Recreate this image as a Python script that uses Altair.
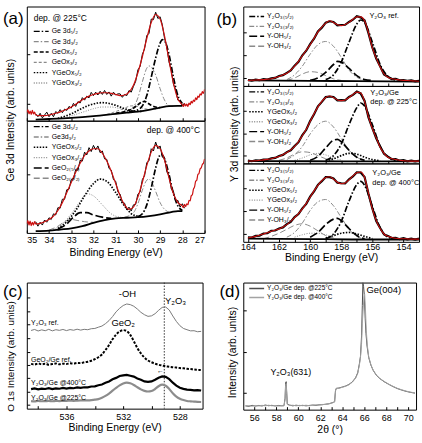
import altair as alt
import pandas as pd

FONT = "Liberation Sans"
BLACK = "#000000"
GRAY = "#8a8a8a"
RED = "#cc1010"

# ============================ (a) Ge 3d ============================
A_X_DATA = [34.6, 34.5, 34.4, 34.3, 34.2, 34.1, 34.0, 33.9, 33.8, 33.7, 33.6, 33.5, 33.4, 33.3,
            33.2, 33.1, 33.0, 32.9, 32.8, 32.7, 32.6, 32.5, 32.4, 32.3, 32.2, 32.1, 32.0, 31.9,
            31.8, 31.7, 31.6, 31.5, 31.4, 31.3, 31.2, 31.1, 31.0, 30.9, 30.8, 30.7, 30.6, 30.5,
            30.4, 30.3, 30.2, 30.1, 30.0, 29.9, 29.8, 29.7, 29.6, 29.5, 29.4, 29.3, 29.2, 29.1,
            29.0, 28.9, 28.8, 28.7, 28.6, 28.5, 28.4, 28.3, 28.2, 28.1, 28.0, 27.9]
A_X_FIT = [34.6, 34.4, 34.2, 34.0, 33.8, 33.6, 33.4, 33.2, 33.0, 32.8, 32.6, 32.4, 32.2, 32.0,
           31.8, 31.6, 31.4, 31.2, 31.0, 30.8, 30.6, 30.4, 30.2, 30.0, 29.8, 29.6, 29.4, 29.2,
           29.0, 28.8, 28.6, 28.4, 28.2, 28.0]
A_X_EDGE_L = [35.0, 34.95, 34.9, 34.85, 34.8, 34.75, 34.7, 34.65, 34.6]
A_X_EDGE_R = [28.0, 27.95, 27.9, 27.85, 27.8, 27.75, 27.7, 27.65, 27.6, 27.55, 27.5, 27.45,
              27.4, 27.35, 27.3, 27.25, 27.2, 27.15, 27.1, 27.05, 27.0]

# upper: dep. @ 225 C
A1_DATA = [6, 3.5, 6.5, 2.5, 5, 7.5, 3.5, 6.5, 3.5, 8, 6.5, 9.7, 7, 10.2, 9, 12.5, 11, 15.2,
           12.5, 16.7, 15.5, 20.2, 18, 21.5, 20, 24.8, 22, 25, 22.5, 25.8, 23, 26.5, 23, 25.2,
           21.5, 25, 22.5, 23.5, 23.5, 20.5, 23, 22, 26.5, 25, 30, 34.5, 44.5, 47.5, 58, 63,
           74.5, 76.5, 89, 88.5, 95, 89.5, 91, 84, 72, 65.5, 51.5, 44.5, 32, 27, 18, 17, 13, 15.5]
A1_FIT = [5, 4.5, 4.5, 5, 6, 7, 8.5, 10, 12, 14.5, 17, 19.5, 21.5, 23, 24, 24.5, 24.5, 24, 23,
          22, 22.5, 25, 31, 42, 56, 72, 86, 93, 89, 74, 53, 33, 19, 14]
A1_EDGE_L = [7, 9.5, 6, 8.5, 5.5, 9, 6, 7.5, 5]
A1_EDGE_R = [14, 12.5, 15, 13, 14.5, 12.5, 15.5, 14, 17, 15.5, 18, 17, 20, 18.5, 21.5, 20.5,
             23.5, 22.5, 25.5, 24, 27.5]
A1_GE52 = [(30.4, 8), (30.2, 8.5), (30.0, 9.5), (29.8, 13), (29.6, 22), (29.4, 38), (29.2, 55),
           (29.0, 68), (28.9, 71), (28.8, 70), (28.6, 58), (28.4, 38), (28.2, 22), (28.0, 15)]
A1_GE32 = [(30.8, 7), (30.4, 9), (30.2, 12), (30.0, 20), (29.8, 34), (29.6, 46), (29.5, 48),
           (29.4, 47), (29.2, 40), (29.0, 28), (28.8, 18), (28.6, 13), (28.4, 12.5)]
A1_GEOX52 = [(31.0, 6.5), (30.6, 8), (30.2, 11), (30.0, 14), (29.8, 16.5), (29.7, 17),
             (29.6, 16), (29.4, 13.5), (29.2, 12), (29.0, 11.5)]
A1_GEOX32 = [(31.4, 5.5), (31.0, 8), (30.6, 11), (30.3, 13), (30.0, 12.5), (29.7, 10.5),
             (29.4, 9.8), (29.2, 10)]
A1_YGEOX52 = [(33.6, 2), (33.0, 6), (32.6, 10), (32.2, 13.5), (31.8, 15.5), (31.6, 15.8),
              (31.4, 15.5), (31.0, 13.5), (30.6, 10.5), (30.2, 8.5), (29.8, 8.2)]
A1_YGEOX32 = [(33.2, 3), (32.8, 5.5), (32.4, 8), (32.0, 10.5), (31.6, 12), (31.2, 12),
              (30.8, 10.5), (30.4, 8.2), (30.0, 7.8)]
A1_BG = [(34.6, 1), (34.0, 1.5), (33.0, 2.5), (32.0, 4), (31.0, 6), (30.5, 7), (30.0, 8),
         (29.5, 9.5), (29.0, 11.5), (28.6, 12.8), (28.2, 13), (28.0, 13)]
A1_TEXT = ["dep. @ 225°C"]
A1_TEXT_X = [34.69]
A1_TEXT_Y = [90]

# lower: dep. @ 400 C
A2_DATA = [10, 6, 9.5, 7, 11.5, 9.5, 13.5, 12, 17, 16, 22.5, 22, 30, 30, 38.5, 39, 47.5, 48,
           56.5, 56, 64.5, 64, 72, 69.5, 76, 72.5, 78, 74, 77.5, 71.5, 73, 66, 65.5, 57.5, 56,
           47.5, 46, 36.5, 34.5, 27, 26.5, 20.5, 23, 19.5, 25, 25.5, 34.5, 36.5, 47.5, 51, 62.5,
           64.5, 75, 73, 81, 75, 77.5, 67.5, 67, 54.5, 51, 39.5, 37, 28.5, 29, 23, 26, 22]
A2_FIT = [8, 8.5, 10, 12, 15, 20, 27, 36, 45, 54, 62, 69, 73, 75, 75, 71, 64, 55, 44, 33, 25,
          21, 23, 32, 45, 60, 72, 78, 75, 65, 49, 35, 27, 24]
A2_EDGE_L = [8, 11, 7, 10.5, 6.5, 9.5, 7, 10, 8]
A2_EDGE_R = [24, 22.5, 25.5, 23.5, 26, 25, 29, 28.5, 33, 34, 39, 41, 46, 47, 52, 53, 57, 58,
             61, 62, 66]
A2_GE52 = [(30.0, 14.5), (29.8, 17), (29.6, 25), (29.4, 40), (29.2, 58), (29.05, 68),
           (28.95, 70), (28.8, 66), (28.6, 52), (28.4, 35), (28.2, 24), (28.0, 20)]
A2_GE32 = [(30.6, 14), (30.2, 18), (30.0, 26), (29.8, 38), (29.6, 47), (29.5, 48), (29.4, 46),
           (29.2, 37), (29.0, 27), (28.8, 21), (28.6, 18.5)]
A2_YGEOX52 = [(33.6, 4), (33.2, 10), (32.8, 20), (32.4, 33), (32.0, 44), (31.7, 48),
              (31.4, 46), (31.0, 36), (30.6, 24), (30.2, 16), (29.8, 14.5)]
A2_YGEOX32 = [(33.8, 3), (33.4, 8), (33.0, 17), (32.6, 28), (32.3, 35), (32.0, 33),
              (31.6, 25), (31.2, 17), (30.8, 14), (30.4, 13.5)]
A2_GEO2_52 = [(33.6, 3.5), (33.2, 8), (32.9, 14), (32.6, 18), (32.3, 18), (32.0, 16),
              (31.6, 14), (31.2, 13)]
A2_GEO2_32 = [(34.0, 2.5), (33.6, 6), (33.3, 10), (33.0, 12), (32.7, 11), (32.4, 10),
              (32.0, 9.5)]
A2_BG = [(34.6, 1.5), (34.0, 2), (33.5, 3), (33.0, 4), (32.5, 6), (32.0, 9), (31.5, 11.5),
         (31.0, 13), (30.5, 13.5), (30.0, 14), (29.5, 15), (29.0, 16.5), (28.5, 18.5),
         (28.2, 19.5), (28.0, 19.5)]
A2_TEXT = ["dep. @ 400°C"]
A2_TEXT_X = [29.6]
A2_TEXT_Y = [92]

# ============================ (b) Y 3d ============================
B_X = [164.0, 163.75, 163.5, 163.25, 163.0, 162.75, 162.5, 162.25, 162.0, 161.75, 161.5,
       161.25, 161.0, 160.75, 160.5, 160.25, 160.0, 159.75, 159.5, 159.25, 159.0, 158.75,
       158.5, 158.25, 158.0, 157.75, 157.5, 157.25, 157.0, 156.75, 156.5, 156.25, 156.0,
       155.75, 155.5, 155.25, 155.0, 154.75, 154.5, 154.25, 154.0, 153.75, 153.5, 153.25, 153.0]

B1_FIT = [7, 7.2, 7.5, 7.7, 8, 8.5, 9, 10.5, 12, 14, 16, 20, 25, 31, 38, 45, 52, 60, 68, 74,
          79, 82, 80, 77, 76, 77.5, 80, 84, 87, 87, 82, 67, 48, 35, 24, 15, 11, 9, 8.5, 7.5,
          7, 6.8, 6.5, 6.2, 6]
B1_DATA = [7.5, 6.8, 7.9, 7.2, 8.6, 8.1, 9.5, 10.1, 12.6, 13.6, 16.5, 19.5, 25.6, 30.5, 38.6,
           44.4, 52.7, 59.4, 68.6, 73.4, 79.7, 81.4, 80.6, 76.4, 76.7, 77, 80.6, 83.4, 87.7,
           86.4, 82.6, 66.4, 48.6, 34.4, 24.7, 14.5, 11.6, 8.6, 9, 7.1, 7.5, 6.4, 7, 5.8, 6.4]
B1_Y52 = [(159.0, 8), (158.5, 14), (158.0, 30), (157.5, 55), (157.0, 78), (156.75, 83),
          (156.5, 80), (156.0, 55), (155.5, 27), (155.0, 12), (154.5, 7.5)]
B1_Y32 = [(161.5, 8), (161.0, 14), (160.5, 25), (160.0, 40), (159.5, 52), (159.0, 56),
          (158.5, 50), (158.0, 36), (157.5, 20), (157.0, 11), (156.5, 7.5)]
B1_OH52 = [(160.0, 7), (159.5, 10), (159.0, 17), (158.5, 27), (158.25, 31), (158.0, 30),
           (157.5, 22), (157.0, 13), (156.5, 8), (156.0, 7)]
B1_OH32 = [(161.5, 7), (161.0, 10), (160.5, 15), (160.0, 18), (159.5, 17), (159.0, 13),
           (158.5, 9), (158.0, 7)]
B1_BG = [(164.0, 7), (160.0, 6.5), (157.0, 6), (153.0, 5.5)]
B1_TEXT = ["Y₂O₃ ref."]
B1_TEXT_X = [156.19]
B1_TEXT_Y = [87.5]

B2_FIT = [3, 3.2, 3.5, 4, 4.5, 5.2, 6, 7.5, 9, 11.5, 14, 17.5, 22, 28, 36, 44, 54, 64, 73, 80,
          85, 87, 85, 82, 81, 82, 85, 89, 92, 91, 80, 60, 45, 33, 21, 13, 8, 6, 5, 4, 3.5, 3.2,
          3, 3, 3]
B2_DATA = [3.5, 2.8, 4, 3.6, 5, 4.8, 6.5, 7.1, 9.6, 11, 14.6, 17, 22.6, 27.4, 36.7, 43.4, 54.6,
           63.4, 73.7, 79.4, 85.6, 86.4, 85.7, 81.4, 81.7, 81.4, 85.7, 88.4, 92.7, 90.4, 80.7,
           59.4, 45.7, 32.4, 21.7, 12.4, 8.7, 5.4, 5.6, 3.5, 4.1, 2.7, 3.5, 2.6, 3.4]
B2_Y52 = [(159.0, 4), (158.5, 10), (158.0, 25), (157.5, 50), (157.0, 72), (156.75, 78),
          (156.5, 74), (156.0, 50), (155.5, 22), (155.0, 8), (154.5, 4)]
B2_Y32 = [(161.5, 5), (161.0, 11), (160.5, 22), (160.0, 38), (159.5, 50), (159.0, 54.5),
          (158.5, 47), (158.0, 32), (157.5, 17), (157.0, 8), (156.5, 4)]
B2_YG52 = [(159.0, 3.5), (158.5, 6), (158.0, 10), (157.5, 13), (157.0, 12), (156.5, 8),
           (156.0, 5), (155.5, 3.5)]
B2_YG32 = [(161.0, 4), (160.5, 7), (160.0, 11), (159.5, 13), (159.0, 11), (158.5, 7),
           (158.0, 4.5)]
B2_OH52 = [(160.0, 4), (159.5, 9), (159.0, 20), (158.5, 30), (158.25, 31), (158.0, 28),
           (157.5, 17), (157.0, 8), (156.5, 4)]
B2_OH32 = [(162.0, 4), (161.5, 7), (161.0, 12), (160.5, 15), (160.0, 14), (159.5, 10),
           (159.0, 6), (158.5, 4)]
B2_BG = [(164.0, 3), (160.0, 2.8), (157.0, 2.5), (153.0, 2.5)]
B2_TEXT = ["Y₂O₃/Ge", "dep. @ 225°C"]
B2_TEXT_X = [156.13, 156.13]
B2_TEXT_Y = [91, 79.5]

B3_FIT = [5, 6, 7, 8.5, 10, 11.5, 13.5, 15, 16.5, 19, 22, 26, 31, 36, 42, 49, 57, 65, 72, 78,
          82, 83, 80, 76, 74, 75, 79, 84, 88, 89, 82, 62, 42, 27, 17, 10, 7, 5.5, 4.5, 4, 4,
          3.8, 3.5, 3.5, 3.5]
B3_DATA = [5.6, 5.4, 7.6, 8, 10.6, 11, 14.1, 14.4, 17.1, 18.4, 22.6, 25.4, 31.6, 35.4, 42.7,
           48.4, 57.6, 64.4, 72.7, 77.4, 82.6, 82.4, 80.7, 75.4, 74.7, 74.4, 79.7, 83.4, 88.7,
           88.4, 82.7, 61.4, 42.7, 26.4, 17.7, 9.4, 7.6, 4.9, 5.1, 3.4, 4.6, 3.2, 4.1, 2.9, 4.1]
B3_Y52 = [(159.0, 4), (158.5, 10), (158.0, 26), (157.5, 52), (157.0, 73), (156.75, 77),
          (156.5, 72), (156.0, 45), (155.5, 18), (155.0, 6), (154.5, 3.5)]
B3_Y32 = [(161.5, 6), (161.0, 12), (160.5, 24), (160.0, 40), (159.5, 51), (159.0, 54),
          (158.5, 46), (158.0, 31), (157.5, 16), (157.0, 7), (156.5, 4)]
B3_YG52 = [(159.0, 5), (158.5, 8), (158.0, 11), (157.5, 12), (157.0, 10), (156.5, 7),
           (156.0, 4)]
B3_YG32 = [(161.0, 6), (160.5, 9), (160.0, 11), (159.5, 11), (159.0, 9), (158.5, 6)]
B3_OH52 = [(160.0, 6), (159.5, 12), (159.0, 22), (158.5, 29), (158.25, 30), (158.0, 27),
           (157.5, 17), (157.0, 8), (156.5, 4)]
B3_OH32 = [(163.0, 4), (162.5, 7), (162.0, 11), (161.5, 16), (161.0, 21), (160.5, 23),
           (160.0, 20), (159.5, 14), (159.0, 8), (158.5, 5)]
B3_BG = [(164.0, 4), (160.0, 3.5), (157.0, 3), (153.0, 3)]
B3_TEXT = ["Y₂O₃/Ge", "dep. @ 400°C"]
B3_TEXT_X = [156.0, 156.0]
B3_TEXT_Y = [87.3, 74.7]

# ============================ (c) O 1s ============================
C_X = [538.5, 538.25, 538.0, 537.75, 537.5, 537.25, 537.0, 536.75, 536.5, 536.25, 536.0,
       535.75, 535.5, 535.25, 535.0, 534.75, 534.5, 534.25, 534.0, 533.75, 533.5, 533.25,
       533.0, 532.75, 532.5, 532.25, 532.0, 531.75, 531.5, 531.25, 531.0, 530.75, 530.5,
       530.25, 530.0, 529.75, 529.5, 529.25, 529.0, 528.75, 528.5, 528.25, 528.0, 527.75,
       527.5, 527.25, 527.0, 526.75, 526.5]
C_Y2O3_REF = [62, 62.8, 61.6, 62.5, 61.8, 62.9, 61.7, 62.6, 62.1, 62.8, 61.9, 62.7, 62.2, 63,
              62.3, 62.9, 62.6, 63.4, 63.6, 64.6, 65.5, 67.4, 69.8, 73, 76.8, 79.6, 81.8, 83,
              82.5, 81.2, 79, 76.4, 74.5, 73.2, 73.6, 75.3, 78, 80.3, 80.6, 78.2, 73.5, 69.2,
              65.8, 63.6, 62.6, 61.7, 61.8, 61, 61.3]
C_GEO2_REF = [35.5, 35, 35.8, 35.2, 35.6, 34.9, 35.4, 35.8, 35.2, 35.7, 35.4, 36, 35.8, 36.3,
              36.1, 36.8, 37.2, 38, 39.2, 40.8, 43, 46.5, 50.5, 55, 58.8, 61.2, 62.3, 61.5,
              58.5, 53.5, 48, 43.8, 40.6, 38.2, 36.8, 35.6, 34.8, 34.2, 33.6, 33.3, 32.9, 32.6,
              32.2, 32, 31.6, 31.4, 31, 30.8, 30.6]
C_GE400 = [15.5, 16.1, 15.3, 15.9, 15.6, 16.2, 15.5, 16.1, 15.8, 16.4, 15.9, 16.5, 16.2, 16.8,
           16.5, 17, 16.9, 17.6, 17.7, 18.6, 19.2, 20.5, 21.6, 23.3, 24.4, 25.9, 26.4, 26.8,
           26.1, 25.4, 24, 22.9, 21.6, 21.2, 21.6, 22.9, 24.5, 25.6, 25.2, 23.4, 20.6, 18.3,
           16.6, 15.7, 15.1, 14.9, 14.5, 14.7, 14.4]
C_GE225 = [6, 5.8, 6.1, 5.9, 6, 6.1, 5.9, 6.1, 6, 6.2, 6.2, 6.3, 6.2, 6.4, 6.5, 6.5, 6.6, 6.8,
           7.1, 7.6, 8.6, 10.1, 12, 14.3, 16.5, 18.5, 20, 20.6, 20.1, 18.8, 17, 15.3, 14.1,
           13.6, 14, 15.6, 17.8, 19, 18.2, 15.6, 12.2, 9.6, 7.9, 6.8, 6.1, 5.8, 5.6, 5.4, 5.3]
C_VLINE = [529.1]
C_BIG_T = ["-OH", "Y₂O₃", "GeO₂"]
C_BIG_X = [531.7, 528.3, 532.0]
C_BIG_Y = [91, 85, 68]
C_SMALL_T = ["Y₂O₃ ref.", "GeO₂/Ge ref.", "Y₂O₃/Ge @400°C", "Y₂O₃/Ge @225°C", "←"]
C_SMALL_X = [538.5, 538.5, 538.5, 538.5, 529.62]
C_SMALL_Y = [68, 38.6, 20.2, 8.4, 30]

# ============================ (d) XRD ============================
D_225 = [(55.2, 3.0), (55.5, 2.6), (55.8, 3.4), (56.1, 2.8), (56.4, 3.3), (56.7, 2.9),
         (57.0, 3.6), (57.3, 3.1), (57.6, 3.4), (57.9, 2.9), (58.2, 3.3), (58.5, 3.0),
         (58.7, 3.2), (58.8, 9), (58.85, 21), (58.9, 22), (58.95, 13), (59.0, 4.5), (59.2, 3.6),
         (59.5, 3.0), (59.8, 3.5), (60.1, 3.1), (60.4, 3.4), (60.7, 3.0), (61.0, 3.3),
         (61.3, 3.6), (61.6, 3.4), (61.9, 3.8), (62.2, 3.9), (62.5, 4.3), (62.8, 4.6),
         (63.1, 5.5), (63.3, 6.2), (63.38, 15), (63.45, 16.8), (63.7, 17), (64.0, 17.8),
         (64.3, 18.6), (64.6, 19.8), (64.9, 21.8), (65.2, 25), (65.4, 29), (65.55, 36),
         (65.65, 42), (65.75, 58), (65.82, 82), (65.87, 100), (65.93, 97), (66.0, 90),
         (66.08, 72), (66.15, 60), (66.25, 50), (66.4, 41), (66.6, 35), (66.8, 31), (67.1, 27),
         (67.4, 24.5), (67.8, 22), (68.2, 20), (68.6, 18.2), (69.0, 16.6), (69.4, 15.4),
         (69.8, 14.4), (70.2, 13.6), (70.6, 13)]
D_400 = [(55.2, 2.8), (55.5, 3.2), (55.8, 2.7), (56.1, 3.3), (56.4, 2.9), (56.7, 3.4),
         (57.0, 3.0), (57.3, 3.5), (57.6, 3.0), (57.9, 3.3), (58.2, 2.8), (58.5, 3.2),
         (58.7, 3.0), (58.8, 8), (58.85, 19), (58.9, 20.5), (58.95, 12), (59.0, 4.2),
         (59.2, 3.3), (59.5, 3.5), (59.8, 3.0), (60.1, 3.4), (60.4, 3.1), (60.7, 3.5),
         (61.0, 3.1), (61.3, 3.4), (61.6, 3.7), (61.9, 3.6), (62.2, 4.1), (62.5, 4.1),
         (62.8, 4.8), (63.1, 5.3), (63.3, 6.0), (63.38, 14.5), (63.45, 16.5), (63.7, 16.8),
         (64.0, 17.6), (64.3, 18.4), (64.6, 19.6), (64.9, 21.5), (65.2, 24.6), (65.4, 28.5),
         (65.55, 35), (65.65, 41), (65.75, 52), (65.82, 68), (65.9, 80), (65.97, 89),
         (66.03, 91), (66.1, 80), (66.18, 62), (66.28, 50), (66.4, 41.5), (66.6, 35.3),
         (66.8, 31.2), (67.1, 27.2), (67.4, 24.7), (67.8, 22.2), (68.2, 20.2), (68.6, 18.4),
         (69.0, 16.8), (69.4, 15.6), (69.8, 14.6), (70.2, 13.8), (70.6, 13.2)]
D_NAMES = ["Y₂O₃/Ge dep. @225°C", "Y₂O₃/Ge dep. @400°C"]
D_TEXT_BIG = ["Ge(004)"]
D_TEXT_BIG_X = [66.2]
D_TEXT_BIG_Y = [94.5]
D_TEXT_SMALL = ["Y₂O₃(631)"]
D_TEXT_SMALL_X = [59.32]
D_TEXT_SMALL_Y = [29.7]

# ============================ styles ============================
DASH_DOT = [6, 2, 1.5, 2]
DASH_DOT_G = [5, 2, 1.5, 2]
DASH = [4, 2]
DASH_G = [3, 2]
DOT = [1.5, 1.5]
DOT_G = [1, 1.5]
LONG = [8, 3]
LONG_G = [6, 3]


def pts(pairs, name):
    return pd.DataFrame({"x": [p[0] for p in pairs], "y": [p[1] for p in pairs], "s": name})


def xy(xs, ys, name):
    n = min(len(xs), len(ys))
    return pd.DataFrame({"x": list(xs)[:n], "y": list(ys)[:n], "s": name})


def txt_df(ts, xs, ys):
    return pd.DataFrame({"t": ts, "x": xs, "y": ys})


def x_axis(values, labels, title=None, label_expr=None, lpad=2, tpad=2):
    kw = dict(values=values, tickSize=3, offset=-3, domain=False, grid=False,
              tickColor=BLACK, tickWidth=1)
    if labels:
        kw.update(labels=True, format="d", labelPadding=lpad, labelFontSize=9,
                  labelOverlap=False, labelColor=BLACK, title=title, titleFontSize=10.5,
                  titlePadding=tpad, titleFontWeight="normal", titleColor=BLACK)
        if label_expr:
            kw["labelExpr"] = label_expr
    else:
        kw.update(labels=False, title=None)
    return alt.Axis(**kw)


def y_axis(values, title=None, tx=0, ty=0, tsize=10.5):
    kw = dict(values=values, labels=False, tickSize=3, offset=-3, domain=False, grid=False,
              tickColor=BLACK)
    if title:
        kw.update(title=title, titleX=tx, titleY=ty, titleAngle=270, titleAlign="center",
                  titleBaseline="middle", titleFontSize=tsize, titleFontWeight="normal",
                  titleColor=BLACK)
    else:
        kw["title"] = None
    return alt.Axis(**kw)


def legend_at(lx, ly, clip=8, rowpad=2.4, size=7):
    return alt.Legend(title=None, orient="none", legendX=lx, legendY=ly, symbolType="stroke",
                      symbolSize=225, symbolStrokeWidth=1.4, labelFontSize=size,
                      labelFont=FONT, labelColor=BLACK, rowPadding=rowpad, clipHeight=clip,
                      padding=0, labelOffset=2, labelLimit=200)


def panel_label(text, px, py):
    return alt.Chart(pd.DataFrame({"t": [text]})).mark_text(
        align="left", baseline="middle", fontSize=17, font=FONT, color=BLACK
    ).encode(x=alt.value(px), y=alt.value(py), text="t:N")


def spacer(h):
    return alt.Chart(pd.DataFrame({"t": [""]})).mark_text(opacity=0).encode(
        x=alt.value(0), y=alt.value(0), text="t:N"
    ).properties(width=10, height=h, view=alt.ViewBackground(stroke="transparent"))


def xps_sub(xdom, w, h, comps, bg, data_x, data_y, red_x, red_y, xaxis, yaxis, legend,
            texts, tsize, label=None, data_w=1.0, red_w=1.2):
    xenc = alt.X("x:Q", scale=alt.Scale(domain=xdom, nice=False, zero=False), axis=xaxis)
    yenc = alt.Y("y:Q", scale=alt.Scale(domain=[0, 100], nice=False, zero=False), axis=yaxis)
    names = [c[0] for c in comps]
    color = alt.Color("s:N", scale=alt.Scale(domain=names, range=[c[2] for c in comps]),
                      legend=legend)
    dash = alt.StrokeDash("s:N", scale=alt.Scale(domain=names, range=[c[3] for c in comps]),
                          legend=legend)
    thick_df = pd.concat([pts(c[1], c[0]) for c in comps if c[4]])
    thin_df = pd.concat([pts(c[1], c[0]) for c in comps if not c[4]])
    layers = [
        alt.Chart(thin_df).mark_line(strokeWidth=1.0, interpolate="monotone", clip=True)
        .encode(x=xenc, y=yenc, color=color, strokeDash=dash),
        alt.Chart(thick_df).mark_line(strokeWidth=1.7, interpolate="monotone", clip=True)
        .encode(x=xenc, y=yenc, color=color, strokeDash=dash),
        alt.Chart(pts(bg, "bg")).mark_line(color=BLACK, strokeWidth=1.8,
                                           interpolate="monotone", clip=True)
        .encode(x=xenc, y=yenc),
        alt.Chart(xy(data_x, data_y, "data")).mark_line(color=BLACK, strokeWidth=data_w,
                                                        clip=True)
        .encode(x=xenc, y=yenc),
        alt.Chart(xy(red_x, red_y, "fit")).mark_line(color=RED, strokeWidth=red_w,
                                                     interpolate="monotone", clip=True)
        .encode(x=xenc, y=yenc),
        alt.Chart(texts).mark_text(align="left", baseline="middle", fontSize=tsize, font=FONT,
                                   color=BLACK)
        .encode(x=xenc, y=yenc, text="t:N"),
    ]
    if label is not None:
        layers.append(panel_label(*label))
    return alt.layer(*layers).properties(width=w, height=h)


def indep(ch):
    return ch.resolve_scale(x="independent", y="independent", color="independent",
                            strokeDash="independent") \
             .resolve_legend(color="independent", strokeDash="independent")


# ---------------- (a) ----------------
A_DOM = [35, 27]
A_TICKS = [35, 34, 33, 32, 31, 30, 29, 28, 27]
a1_comps = [
    ("Ge 3d₅/₂", A1_GE52, BLACK, DASH_DOT, True),
    ("Ge 3d₃/₂", A1_GE32, GRAY, DASH_DOT_G, False),
    ("GeOx₅/₂", A1_GEOX52, BLACK, DASH, True),
    ("GeOx₃/₂", A1_GEOX32, GRAY, DASH_G, False),
    ("YGeOx₅/₂", A1_YGEOX52, BLACK, DOT, True),
    ("YGeOx₃/₂", A1_YGEOX32, GRAY, DOT_G, False),
]
a1 = xps_sub(A_DOM, 179, 115, a1_comps, A1_BG, A_X_DATA, A1_DATA,
             A_X_EDGE_L + A_X_FIT + A_X_EDGE_R, A1_EDGE_L + A1_FIT + A1_EDGE_R,
             x_axis(A_TICKS, False),
             y_axis([15, 58], "Ge 3d Intensity (arb. units)", -19, 114),
             legend_at(6, 21), txt_df(A1_TEXT, A1_TEXT_X, A1_TEXT_Y), 8.5,
             label=("(a)", -24, 13))
a2_comps = [
    ("Ge 3d₅/₂", A2_GE52, BLACK, DASH_DOT, True),
    ("Ge3d₃/₂", A2_GE32, GRAY, DASH_DOT_G, False),
    ("YGeOx₅/₂", A2_YGEOX52, BLACK, DOT, True),
    ("YGeOx₃/₂", A2_YGEOX32, GRAY, DOT_G, False),
    ("GeO₂₍₅/₂₎", A2_GEO2_52, BLACK, LONG, True),
    ("GeO₂₍₃/₂₎", A2_GEO2_32, GRAY, LONG_G, False),
]
a2 = xps_sub(A_DOM, 179, 113, a2_comps, A2_BG, A_X_DATA, A2_DATA,
             A_X_EDGE_L + A_X_FIT + A_X_EDGE_R, A2_EDGE_L + A2_FIT + A2_EDGE_R,
             x_axis(A_TICKS, True, "Binding Energy (eV)", lpad=3, tpad=3),
             y_axis([10, 52]), legend_at(6, 2), txt_df(A2_TEXT, A2_TEXT_X, A2_TEXT_Y), 8.5)

# ---------------- (b) ----------------
B_DOM = [164.3, 153]
B_TICKS = [164, 163, 162, 161, 160, 159, 158, 157, 156, 155, 154]
B_EXPR = "datum.value % 2 == 0 ? datum.label : ''"
b1_comps = [
    ("Y₂O₃₍₅/₂₎", B1_Y52, BLACK, DASH_DOT, True),
    ("Y₂O₃₍₃/₂₎", B1_Y32, GRAY, DASH_DOT_G, False),
    ("Y-OH₅/₂", B1_OH52, BLACK, LONG, True),
    ("Y-OH₃/₂", B1_OH32, GRAY, LONG_G, False),
]
b1 = xps_sub(B_DOM, 177, 80, b1_comps, B1_BG, B_X, B1_DATA, B_X, B1_FIT,
             x_axis(B_TICKS, False),
             y_axis([10, 39, 68], "Y 3d Intensity (arb. units)", -12, 118),
             legend_at(5, 6, rowpad=2), txt_df(B1_TEXT, B1_TEXT_X, B1_TEXT_Y), 7.5,
             label=("(b)", -27, 13.5), data_w=2.2, red_w=1.1)
b2_comps = [
    ("Y₂O₃₍₅/₂₎", B2_Y52, BLACK, DASH_DOT, True),
    ("Y₂O₃₍₃/₂₎", B2_Y32, GRAY, DASH_DOT_G, False),
    ("YGeOx₅/₂", B2_YG52, BLACK, DOT, True),
    ("YGeOx₃/₂", B2_YG32, GRAY, DOT_G, False),
    ("Y-OH₅/₂", B2_OH52, BLACK, LONG, True),
    ("Y-OH₃/₂", B2_OH32, GRAY, LONG_G, False),
]
b2 = xps_sub(B_DOM, 177, 78, b2_comps, B2_BG, B_X, B2_DATA, B_X, B2_FIT,
             x_axis(B_TICKS, False), y_axis([10, 39, 68]),
             legend_at(5, 2, rowpad=2), txt_df(B2_TEXT, B2_TEXT_X, B2_TEXT_Y), 7.5,
             data_w=2.2, red_w=1.1)
b3_comps = [
    ("Y₂O₃₍₅/₂₎", B3_Y52, BLACK, DASH_DOT, True),
    ("Y₂O₃₍₃/₂₎", B3_Y32, GRAY, DASH_DOT_G, False),
    ("YGeOx₅/₂", B3_YG52, BLACK, DOT, True),
    ("YGeOx₃/₂", B3_YG32, GRAY, DOT_G, False),
    ("Y-OH₅/₂", B3_OH52, BLACK, LONG, True),
    ("Y-OH₃/₂", B3_OH32, GRAY, LONG_G, False),
]
b3 = xps_sub(B_DOM, 177, 79, b3_comps, B3_BG, B_X, B3_DATA, B_X, B3_FIT,
             x_axis(B_TICKS, True, "Binding Energy (eV)", label_expr=B_EXPR, lpad=1, tpad=1),
             y_axis([10, 39, 68]),
             legend_at(5, 3, rowpad=2), txt_df(B3_TEXT, B3_TEXT_X, B3_TEXT_Y), 7.5,
             data_w=2.2, red_w=1.1)

# ---------------- (c) ----------------
cx = alt.X("x:Q", scale=alt.Scale(domain=[538.8, 526.4], nice=False, zero=False),
           axis=x_axis([538, 536, 534, 532, 530, 528], True, "Binding Energy (eV)",
                       label_expr="datum.value % 4 == 0 ? datum.label : ''", lpad=3.5, tpad=1))
cy = alt.Y("y:Q", scale=alt.Scale(domain=[0, 100], nice=False, zero=False),
           axis=y_axis([3, 13.6, 24.2, 34.6, 45.1, 55.7, 66.9, 77.4, 88.4],
                       "O 1s Intensity (arb. units)", -19, 74, tsize=10))
c = alt.layer(
    alt.Chart(pd.DataFrame({"x": C_VLINE})).mark_rule(color="#333333", strokeWidth=1,
                                                     strokeDash=[1.5, 1.5]).encode(x=cx),
    alt.Chart(xy(C_X, C_Y2O3_REF, "ref")).mark_line(color="#7a7a7a", strokeWidth=1.0)
    .encode(x=cx, y=cy),
    alt.Chart(xy(C_X, C_GEO2_REF, "geo2")).mark_line(color=BLACK, strokeWidth=2.0,
                                                     strokeDash=[2.5, 1.5],
                                                     interpolate="monotone")
    .encode(x=cx, y=cy),
    alt.Chart(xy(C_X, C_GE400, "400")).mark_line(color=BLACK, strokeWidth=2.2)
    .encode(x=cx, y=cy),
    alt.Chart(xy(C_X, C_GE225, "225")).mark_line(color="#8c8c8c", strokeWidth=2.2,
                                                 interpolate="monotone")
    .encode(x=cx, y=cy),
    alt.Chart(txt_df(C_BIG_T, C_BIG_X, C_BIG_Y)).mark_text(
        align="center", baseline="middle", fontSize=9.5, font=FONT, color=BLACK)
    .encode(x=cx, y=cy, text="t:N"),
    alt.Chart(txt_df(C_SMALL_T, C_SMALL_X, C_SMALL_Y)).mark_text(
        align="left", baseline="middle", fontSize=7, font=FONT, color=BLACK)
    .encode(x=cx, y=cy, text="t:N"),
    panel_label("(c)", -24, 10),
).properties(width=177, height=127)

# ---------------- (d) ----------------
dx = alt.X("x:Q", scale=alt.Scale(domain=[55, 70.7], nice=False, zero=False),
           axis=x_axis(list(range(56, 71)), True, "2θ (°)",
                       label_expr="datum.value % 2 == 0 ? datum.label : ''", lpad=3.5, tpad=3))
dy = alt.Y("y:Q", scale=alt.Scale(domain=[0, 100], nice=False, zero=False),
           axis=y_axis([13, 45, 78], "Intensity (arb. units)", -14, 70))
dcolor = alt.Color("s:N", scale=alt.Scale(domain=D_NAMES, range=["#4d4d4d", "#a3a3a3"]),
                   legend=legend_at(5, 3, clip=6, rowpad=2, size=6.5))
d_df = pd.concat([pts(D_225, D_NAMES[0]), pts(D_400, D_NAMES[1])])
d = alt.layer(
    alt.Chart(d_df).mark_line(strokeWidth=1.0, clip=True).encode(x=dx, y=dy, color=dcolor),
    alt.Chart(txt_df(D_TEXT_BIG, D_TEXT_BIG_X, D_TEXT_BIG_Y)).mark_text(
        align="left", baseline="middle", fontSize=9.5, font=FONT, color=BLACK)
    .encode(x=dx, y=dy, text="t:N"),
    alt.Chart(txt_df(D_TEXT_SMALL, D_TEXT_SMALL_X, D_TEXT_SMALL_Y)).mark_text(
        align="center", baseline="middle", fontSize=9, font=FONT, color=BLACK)
    .encode(x=dx, y=dy, text="t:N"),
    panel_label("(d)", -24, 10),
).properties(width=174, height=128)

# ---------------- assemble: two columns ----------------
left_col = indep(alt.vconcat(a1, a2, spacer(50), c, spacing=0, bounds="flush"))
right_col = indep(alt.vconcat(b1, b2, b3, spacer(41), d, spacing=0, bounds="flush"))
chart = indep(alt.hconcat(left_col, right_col, spacing=9)).properties(
    padding={"left": 2, "top": 4, "right": 2, "bottom": 2}, background="white"
).configure(font=FONT).configure_view(stroke=BLACK, strokeWidth=1)

chart.save("out.html", embed_options={"renderer": "svg", "actions": False})
